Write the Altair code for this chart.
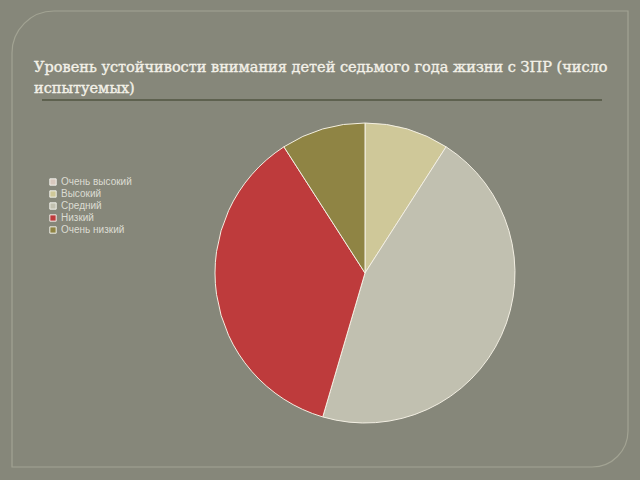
import altair as alt
import pandas as pd

categories = ["Очень высокий", "Высокий", "Средний", "Низкий", "Очень низкий"]
values = [0, 1, 5, 4, 1]
colors = ["#d8c8bd", "#cfc899", "#c1c0b0", "#be3b3c", "#8f8444"]
title_lines = [
    "Уровень устойчивости внимания детей седьмого года жизни с ЗПР (число",
    "испытуемых)",
]

df = pd.DataFrame({"cat": categories, "val": values, "idx": list(range(len(categories)))})
one = pd.DataFrame({"k": [0]})
tdf = pd.DataFrame({"t": title_lines, "row": [0, 1]})

frame = alt.Chart(one).mark_rect(
    fill=None, fillOpacity=0, stroke="#a2a393", strokeWidth=1.2,
    cornerRadiusTopLeft=42, cornerRadiusBottomRight=36
).encode(
    x=alt.value(12), x2=alt.value(628), y=alt.value(11), y2=alt.value(467)
)

rule = alt.Chart(one).mark_rule(color="#5e614f", strokeWidth=2).encode(
    x=alt.value(42), x2=alt.value(602), y=alt.value(100)
)

title_style = dict(
    align="left", baseline="alphabetic", font="DejaVu Serif", fontSize=14.5,
    color="#f3f1e8", stroke="#f3f1e8", strokeWidth=0.35,
)

title1 = alt.Chart(tdf[tdf.row == 0]).mark_text(**title_style).encode(
    x=alt.value(34), y=alt.value(72), text="t:N"
)

title2 = alt.Chart(tdf[tdf.row == 1]).mark_text(**title_style).encode(
    x=alt.value(34), y=alt.value(93), text="t:N"
)

pie = alt.Chart(df).mark_arc(outerRadius=150, stroke="#f3efe3", strokeWidth=1).encode(
    theta=alt.Theta("val:Q", stack=True),
    order=alt.Order("idx:Q"),
    color=alt.Color(
        "cat:N",
        scale=alt.Scale(domain=categories, range=colors),
        sort=categories,
        legend=alt.Legend(
            title=None, orient="none", legendX=48, legendY=177,
            labelFontSize=10, labelColor="#dcdcd2", labelFont="Liberation Sans",
            symbolType="square", symbolSize=40, symbolStrokeColor="#f0f0ea",
            symbolStrokeWidth=1, rowPadding=0, labelOffset=3,
        ),
    ),
    x=alt.value(365),
    y=alt.value(273),
)

chart = alt.layer(frame, rule, title1, title2, pie).properties(
    width=640, height=480, padding=0, autosize=alt.AutoSizeParams(type="none"),
    background="#86877a",
).configure_view(stroke=None)

chart.save("out.html", embed_options={"renderer": "svg", "actions": False})
